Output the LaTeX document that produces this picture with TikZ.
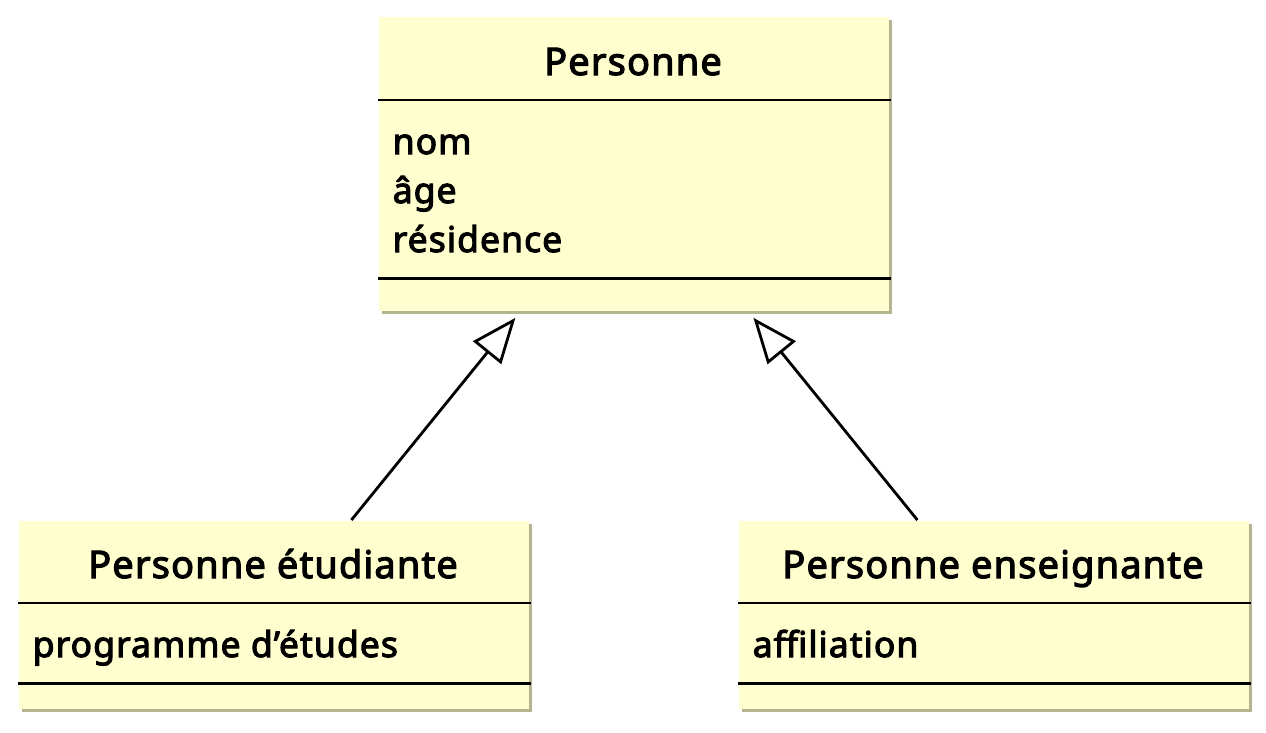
\documentclass[tikz,border=0pt]{standalone}
\usepackage{fontspec}
\setmainfont{Noto Sans}[UprightFeatures={FakeBold=3}, LetterSpace=3]
\usetikzlibrary{arrows.meta,shadows}

\definecolor{classfill}{RGB}{254,254,206}
\definecolor{classshadow}{RGB}{180,180,142}

\begin{document}
\begin{tikzpicture}[x=1pt, y=-1pt, line width=2.8pt,
        classbox/.style = {rectangle, fill=classfill, minimum width=510pt, inner sep=0pt,
            drop shadow={shadow xshift=3pt, shadow yshift=-3pt, fill=classshadow, opacity=1}},
        title/.style = {anchor=base, font=\fontsize{38}{49}\selectfont},
        attr/.style = {anchor=base west, font=\fontsize{35.5}{49}\selectfont},
        sep/.style = {draw=black, line width=2.8pt},
        inherit/.style = {draw=black, -{Triangle[open, length=45pt, width=36pt]}}]
    \useasboundingbox (0,0) rectangle (1266,732);
    % classes
    \node[classbox, anchor=north west, minimum height=294pt] (pers) at (378,16) {};
    \node[classbox, anchor=north west, minimum height=188pt] (etu) at (18,520) {};
    \node[classbox, anchor=north west, minimum height=188pt] (ens) at (738,520) {};
    % Personne
    \node[title] (persname) at (633,75) {Personne};
    \draw[sep] ([yshift=-84pt]pers.north west) -- ([yshift=-84pt]pers.north east);
    \node[attr] (nom) at (388,154) {nom};
    \node[attr] (age) at (388,203) {âge};
    \node[attr] (res) at (388,252) {résidence};
    \draw[sep] ([yshift=34pt]pers.south west) -- ([yshift=34pt]pers.south east);
    % Personne étudiante
    \node[title] (etuname) at (273,578) {Personne étudiante};
    \draw[sep] ([yshift=-83pt]etu.north west) -- ([yshift=-83pt]etu.north east);
    \node[attr] (prog) at (28,657) {programme d’études};
    \draw[sep] ([yshift=27pt]etu.south west) -- ([yshift=27pt]etu.south east);
    % Personne enseignante
    \node[title] (ensname) at (993,578) {Personne enseignante};
    \draw[sep] ([yshift=-83pt]ens.north west) -- ([yshift=-83pt]ens.north east);
    \node[attr] (affil) at (748,657) {affiliation};
    \draw[sep] ([yshift=27pt]ens.south west) -- ([yshift=27pt]ens.south east);
    % generalisation
    \draw[inherit] ([xshift=77pt]etu.north) -- ([xshift=-119pt, yshift=-5pt]pers.south);
    \draw[inherit] ([xshift=-77pt]ens.north) -- ([xshift=119pt, yshift=-5pt]pers.south);
\end{tikzpicture}
\end{document}
